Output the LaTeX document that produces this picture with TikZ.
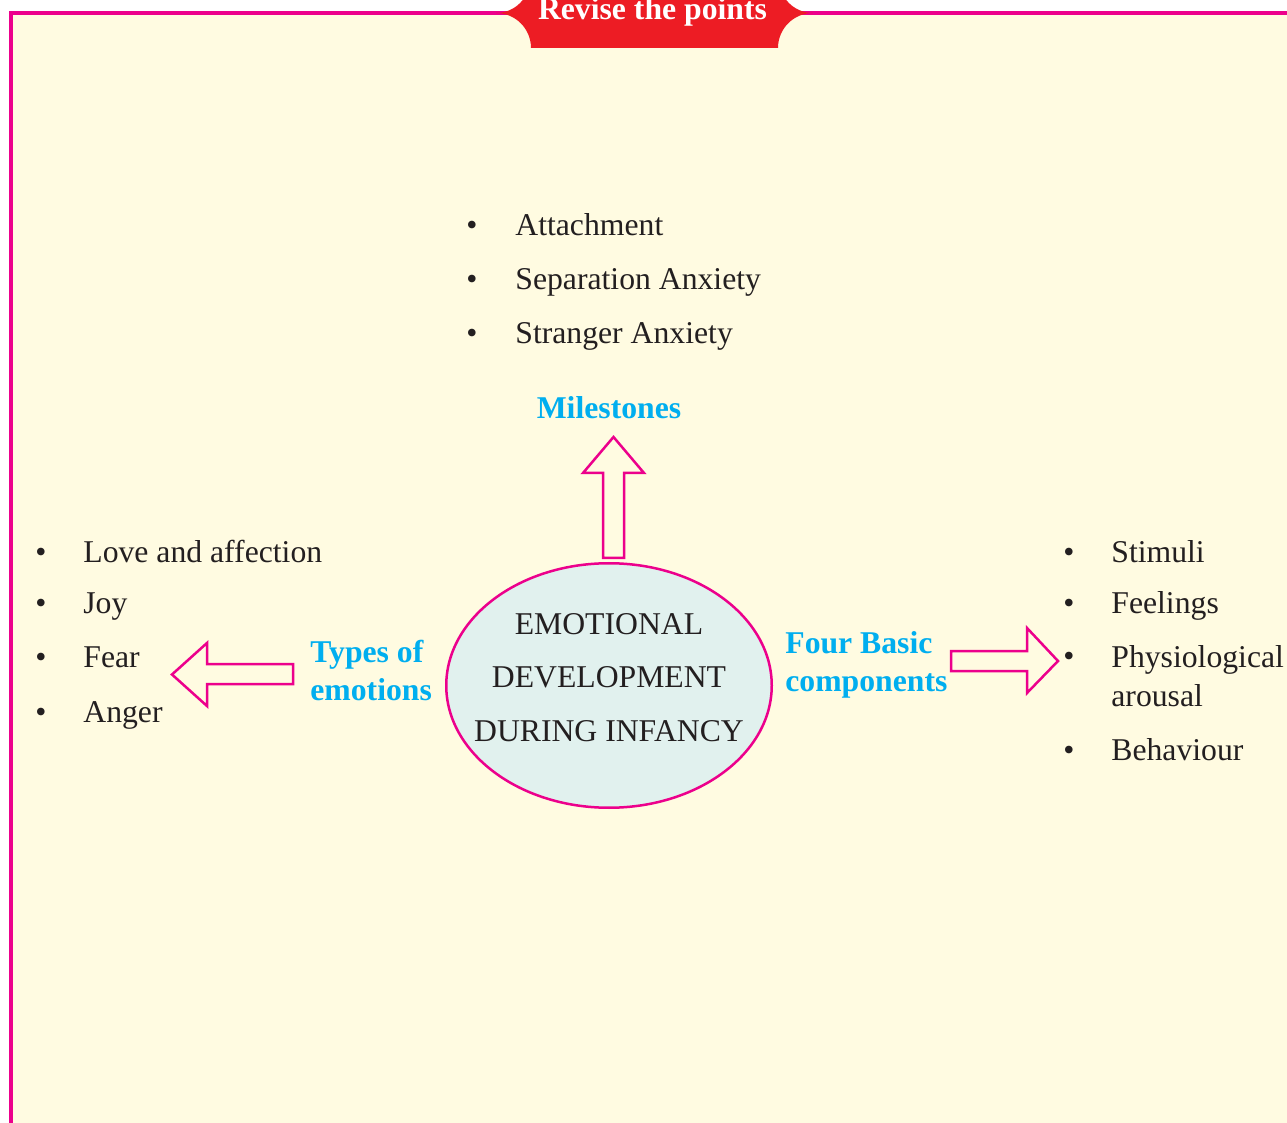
\documentclass[tikz,border=0pt]{standalone}
\usepackage{fontspec}
\setmainfont{Liberation Serif}
\usetikzlibrary{shapes.geometric}

\definecolor{cream}{HTML}{FFFBE1}
\definecolor{pinkline}{HTML}{EC008C}
\definecolor{bannerred}{HTML}{ED1C24}
\definecolor{headcyan}{HTML}{00AEEF}
\definecolor{corefill}{HTML}{E1F1EE}
\definecolor{inktext}{HTML}{231F20}

\tikzset{
  point/.style={anchor=base west, inner sep=0pt, text=inktext, align=left,
    font=\fontsize{15.85}{19.5}\selectfont},
  dot/.style={anchor=base, inner sep=0pt, text=inktext,
    font=\fontsize{15.85}{19.5}\selectfont},
  heading/.style={anchor=base west, inner sep=0pt, text=headcyan, align=left,
    font=\bfseries\fontsize{15.85}{19}\selectfont},
  blockarrow/.style={draw=pinkline, fill=cream, line width=1.25pt},
}

\begin{document}
\begin{tikzpicture}[x=0.5pt, y=0.5pt]
        \useasboundingbox (0,0) rectangle (1287,-1123);
        \clip (0,0) rectangle (1287,-1123);

        % Page and the cream panel with its pink frame
        \fill[white] (0,0) rectangle (1287,-1123);
        \fill[cream] (11,-13) rectangle (1287,-1123);
        \draw[pinkline, line width=1.6pt] (11,-1123) -- (11,-13) -- (1287,-13);

        % Red banner on the top edge
        \fill[bannerred] (531,-48) arc[start angle=0, end angle=90, radius=35]
            arc[start angle=-90, end angle=0, radius=34] -- (779,21)
            arc[start angle=180, end angle=270, radius=34]
            arc[start angle=90, end angle=180, radius=35] -- cycle;
        \node[anchor=base, inner sep=0pt, text=white, font=\bfseries\fontsize{15.85}{19}\selectfont]
            (banner) at (652.5,-20) {Revise the points};

        % Centre ellipse (multi-line nodes sit on their last baseline)
        \node[ellipse, draw=pinkline, fill=corefill, line width=1.25pt, inner sep=0pt,
            minimum width=162.75pt, minimum height=122.25pt] (core) at (609,-685.5) {};
        \node[anchor=base, inner sep=0pt, text=inktext, align=center,
            font=\fontsize{15.85}{26.7}\selectfont] (coretitle) at (609,-741)
            {EMOTIONAL\\DEVELOPMENT\\DURING INFANCY};

        % Block arrows: up, left, right
        \draw[blockarrow] (603,-558) -- (603,-473) -- (583,-473) -- (613.5,-437)
            -- (644,-473) -- (624,-473) -- (624,-558) -- cycle;
        \draw[blockarrow] (293,-664) -- (207,-664) -- (207,-643) -- (172,-674.5)
            -- (207,-706) -- (207,-684) -- (293,-684) -- cycle;
        \draw[blockarrow] (951,-651) -- (1027,-651) -- (1027,-628) -- (1058,-661)
            -- (1027,-693) -- (1027,-671) -- (951,-671) -- cycle;

        % Headings
        \node[heading, anchor=base] (milestones) at (609,-419) {Milestones};
        \node[heading] (types) at (310,-700) {Types of\\emotions};
        \node[heading] (components) at (785,-691) {Four Basic\\components};

        % Milestones list
        \node[dot] (m1dot) at (472,-236) {\textbullet};
        \node[point] (m1) at (515,-236) {Attachment};
        \node[dot] (m2dot) at (472,-290) {\textbullet};
        \node[point] (m2) at (515,-290) {Separation Anxiety};
        \node[dot] (m3dot) at (472,-344) {\textbullet};
        \node[point] (m3) at (515,-344) {Stranger Anxiety};

        % Types of emotions list
        \node[dot] (t1dot) at (41,-562) {\textbullet};
        \node[point] (t1) at (83,-562) {Love and affection};
        \node[dot] (t2dot) at (41,-614) {\textbullet};
        \node[point] (t2) at (83,-614) {Joy};
        \node[dot] (t3dot) at (41,-668) {\textbullet};
        \node[point] (t3) at (83,-668) {Fear};
        \node[dot] (t4dot) at (41,-722) {\textbullet};
        \node[point] (t4) at (83,-722) {Anger};

        % Four basic components list
        \node[dot] (c1dot) at (1069,-562) {\textbullet};
        \node[point] (c1) at (1111,-562) {Stimuli};
        \node[dot] (c2dot) at (1069,-614) {\textbullet};
        \node[point] (c2) at (1111,-614) {Feelings};
        \node[dot] (c3dot) at (1069,-667) {\textbullet};
        \node[point] (c3) at (1111,-706) {Physiological\\arousal};
        \node[dot] (c4dot) at (1069,-760) {\textbullet};
        \node[point] (c4) at (1111,-760) {Behaviour};
    \end{tikzpicture}
\end{document}
